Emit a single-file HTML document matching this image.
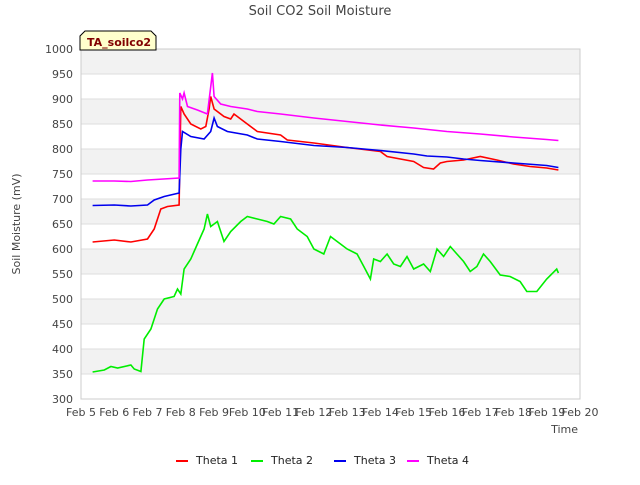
<!DOCTYPE html>
<html><head><meta charset="utf-8"><style>
body{margin:0;background:#fff;font-family:"Liberation Sans","DejaVu Sans",sans-serif;}
</style></head><body>
<svg id="chart" width="640" height="480" xmlns="http://www.w3.org/2000/svg" font-family="DejaVu Sans, Liberation Sans, sans-serif">
<text x="320" y="15" text-anchor="middle" font-size="13" fill="#444">Soil CO2 Soil Moisture</text>
<g id="bands"></g>
<g id="grid"></g>
<g id="series"></g>
<g id="axes"></g>
<text x="20" y="224" transform="rotate(-90 20 224)" text-anchor="middle" font-size="11" fill="#444">Soil Moisture (mV)</text>
<text x="578" y="433" text-anchor="end" font-size="11" fill="#444">Time</text>
<g>
<path d="M80,50 L80,36 L85,31 L151,31 L156,36 L156,50 Z" fill="#ffffcc" stroke="#000" stroke-width="1"/>
<text x="87" y="46" font-size="11" font-weight="bold" fill="#800000">TA_soilco2</text>
</g>
<g id="legend"></g>
</svg>
<script>
const ns="http://www.w3.org/2000/svg";
const yTicks=[300,350,400,450,500,550,600,650,700,750,800,850,900,950,1000];
const xTickLabels=["Feb 5","Feb 6","Feb 7","Feb 8","Feb 9","Feb 10","Feb 11","Feb 12","Feb 13","Feb 14","Feb 15","Feb 16","Feb 17","Feb 18","Feb 19","Feb 20"];
const seriesNames=["Theta 1","Theta 2","Theta 3","Theta 4"];
const seriesColors=["#ff0000","#00ee00","#0000ee","#ff00ff"];
const t1X=[5.35,6,6.5,7.0,7.2,7.4,7.6,7.95,8.0,8.1,8.3,8.6,8.75,8.85,8.9,9.0,9.3,9.5,9.6,10,10.3,11,11.2,12,13,14,14.2,15,15.3,15.6,15.8,16,16.5,17,17.5,18,18.5,19,19.35];
const t1Y=[614,618,614,620,640,680,685,688,885,870,850,840,845,880,905,880,865,860,870,850,835,828,818,812,803,795,785,775,763,760,772,775,778,785,778,770,765,762,758];
const t2X=[5.35,5.7,5.9,6.1,6.5,6.6,6.8,6.9,7.1,7.3,7.5,7.8,7.9,8.0,8.1,8.3,8.5,8.7,8.8,8.9,9.1,9.3,9.5,9.8,10,10.3,10.6,10.8,11,11.3,11.5,11.8,12,12.3,12.5,12.8,13,13.3,13.5,13.7,13.8,14,14.2,14.4,14.6,14.8,15,15.3,15.5,15.7,15.9,16.1,16.3,16.5,16.7,16.9,17.1,17.3,17.6,17.9,18.2,18.4,18.7,19.0,19.3,19.35];
const t2Y=[354,358,365,362,368,360,355,420,440,480,500,505,520,510,560,580,610,640,670,645,655,615,635,655,665,660,655,650,665,660,640,625,600,590,625,610,600,590,565,540,580,575,590,570,565,585,560,570,555,600,585,605,590,575,555,565,590,575,548,545,535,515,515,540,560,552];
const t3X=[5.35,6,6.5,7.0,7.2,7.5,7.95,8.0,8.05,8.3,8.7,8.9,9.0,9.1,9.4,10,10.3,11,12,13,14,15,15.4,16,16.5,17,18,19,19.35];
const t3Y=[687,688,686,688,698,705,712,800,835,825,820,835,862,845,835,828,820,815,807,803,797,790,786,784,780,777,772,767,763];
const t4X=[5.35,6,6.5,7,7.95,7.97,8.05,8.1,8.2,8.5,8.8,8.95,9.0,9.2,9.5,10,10.3,11,12,13,14,15,16,17,18,19,19.35];
const t4Y=[736,736,735,738,742,912,900,912,885,878,870,952,905,890,885,880,875,870,862,855,848,842,835,830,824,819,817];
const X0=81,X1=580,Y0=399,Y1=49;
const xs=d=>X0+(d-5)*(X1-X0)/15;
const ys=v=>Y0-(v-300)*(Y0-Y1)/700;
const bands=document.getElementById('bands'),grid=document.getElementById('grid'),axes=document.getElementById('axes'),ser=document.getElementById('series'),leg=document.getElementById('legend');
function mk(p,tag,at){const e=document.createElementNS(ns,tag);for(const k in at)e.setAttribute(k,at[k]);p.appendChild(e);return e;}
for(let v=350;v<1000;v+=100){
 const r=mk(bands,'rect',{x:X0,y:ys(v+50),width:X1-X0,height:ys(v)-ys(v+50),fill:'#f2f2f2'});
 
 
}
yTicks.forEach(v=>{
 const l=mk(grid,'line',{x1:X0,x2:X1,y1:ys(v),y2:ys(v),stroke:'#dddddd','stroke-width':1});
 
 
 const t=mk(axes,'text',{x:X0-8,y:ys(v)+4,'text-anchor':'end','font-size':11,fill:'#444'});
 t.textContent=v;
 
 
});
xTickLabels.forEach((s,i)=>{
 const t=mk(axes,'text',{x:xs(5+i),y:416,'text-anchor':'middle','font-size':11,fill:'#444'});
 t.textContent=s;
 
 
});
const fr=mk(axes,'rect',{x:X0,y:Y1,width:X1-X0,height:Y0-Y1,fill:'none',stroke:'#cccccc'});


const data=[[t1X,t1Y],[t2X,t2Y],[t3X,t3Y],[t4X,t4Y]];
data.forEach((d,i)=>{
 const pts=d[0].map((x,j)=>xs(x).toFixed(1)+','+ys(d[1][j]).toFixed(1)).join(' ');
 const p=mk(ser,'polyline',{points:pts,fill:'none',stroke:seriesColors[i],'stroke-width':1.6});
 
 
});
const lx=[176,251,334,407];
seriesNames.forEach((n,i)=>{
 const g=mk(leg,'g',{});
 
 
 mk(g,'line',{x1:lx[i],x2:lx[i]+12,y1:461,y2:461,stroke:seriesColors[i],'stroke-width':2});
 const t=mk(g,'text',{x:lx[i]+20,y:464,'font-size':11,fill:'#222'});
 t.textContent=n;
});
</script>
</body></html>
